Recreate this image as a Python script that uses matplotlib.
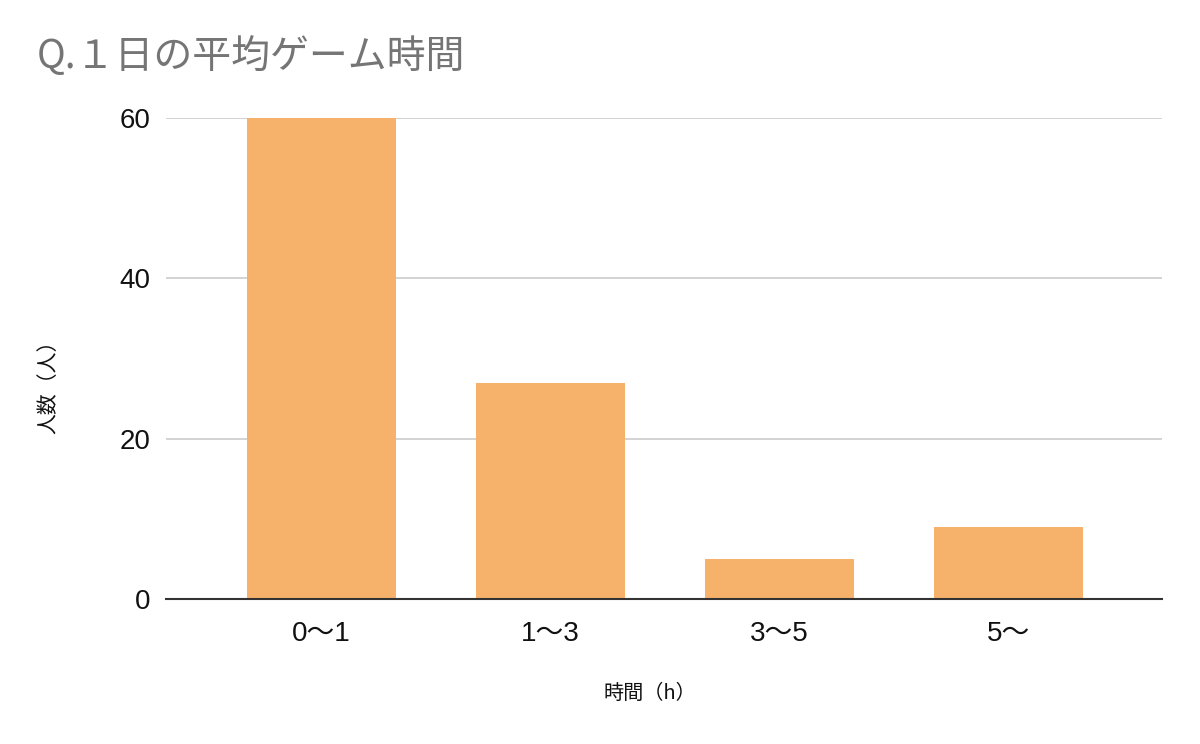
import matplotlib
matplotlib.use("Agg")
import matplotlib.pyplot as plt

plt.rcParams["font.family"] = ["Liberation Sans", "Noto Sans CJK JP", "DejaVu Sans"]

TITLE = "Q.１日の平均ゲーム時間"
categories = ["0〜1", "1〜3", "3〜5", "5〜"]
counts = [60, 27, 5, 9]
y_ticks = [0, 20, 40, 60]

BAR_COLOR = "#f6b26b"

fig = plt.figure(figsize=(12, 7.44), dpi=100)
ax = fig.add_axes([0.1383, 0.1949, 0.83, 0.6465])

x = range(len(categories))
ax.bar(x, counts, width=0.65, color=BAR_COLOR, zorder=3)

ax.set_xlim(-0.68, 3.67)
ax.set_ylim(0, 60)
ax.set_yticks(y_ticks)
ax.set_xticks(list(x))
ax.set_xticklabels(categories)
ax.tick_params(axis="both", length=0, labelsize=20, colors="#111111")
ax.tick_params(axis="y", pad=11)
ax.tick_params(axis="x", pad=16)

ax.grid(axis="y", color="#cccccc", linewidth=1.2, zorder=0)
for side in ["left", "right", "top"]:
    ax.spines[side].set_visible(False)
ax.spines["bottom"].set_color("#333333")
ax.spines["bottom"].set_linewidth(1.5)
ax.spines["bottom"].set_zorder(4)

fig.text(0.031, 0.908, TITLE, fontsize=28, color="#757575",
         family=["Noto Sans CJK JP", "DejaVu Sans"], va="baseline")
fig.text(0.5417, 0.068, "時間（h）", fontsize=14.5, color="#111111",
         family=["Noto Sans CJK JP", "DejaVu Sans"], ha="center", va="center")
fig.text(0.040, 0.487, "人数（人）", fontsize=15, color="#111111", rotation=90,
         family=["Noto Sans CJK JP", "DejaVu Sans"], ha="center", va="center")

fig.savefig("out.png", dpi=100)
